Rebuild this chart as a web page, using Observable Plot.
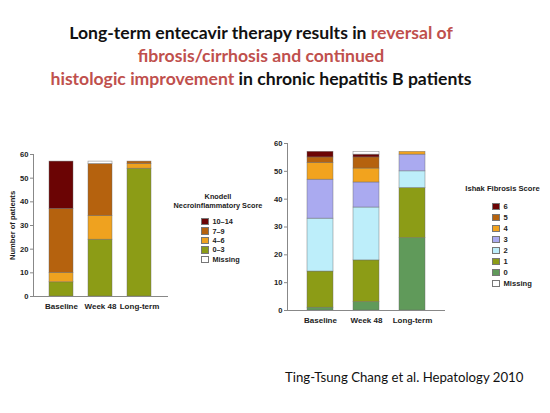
<!DOCTYPE html>
<html>
<head>
<meta charset="utf-8">
<script src="https://cdn.jsdelivr.net/npm/d3@7"></script>
<script src="https://cdn.jsdelivr.net/npm/@observablehq/plot@0.6"></script>
<style>
  body { margin: 0; background: #fff; }
  #page { position: relative; width: 550px; height: 413px; overflow: hidden; background: #fff; }
  #title { position: absolute; left: 0; top: 21px; width: 522px; text-align: center;
    font-family: Lato, "Open Sans", sans-serif; font-weight: 700; font-size: 17.6px; line-height: 23px; color: #111; }
  #title .hl { color: #c0504d; }
  .chart { position: absolute; }
  .legend { position: absolute; font-family: "Liberation Sans", Arial, sans-serif; font-weight: bold; color: #222; }
  .legend .lt { text-align: center; line-height: 9px; white-space: nowrap; }
  .legend .item { display: flex; align-items: center; }
  .legend .sw { width: 7.5px; height: 7.5px; border: 0.6px solid #777; margin-right: 4px; box-sizing: border-box; }
  #caption { position: absolute; left: 285px; top: 369px; font-family: Lato, "Open Sans", sans-serif; font-size: 13.2px; color: #111; white-space: nowrap; }
</style>
</head>
<body>
<div id="page">
  <div id="title">Long-term entecavir therapy results in <span class="hl">reversal of</span><br><span class="hl">fibrosis/cirrhosis and continued</span><br><span class="hl">histologic improvement</span> in chronic hepatitis B patients</div>
  <div id="left" class="chart" style="left:0px; top:140px;"></div>
  <div id="right" class="chart" style="left:255px; top:130px;"></div>
  <div id="legL" class="legend" style="left:168px; top:192px; width:100px; font-size:7.3px;"></div>
  <div id="legR" class="legend" style="left:455px; top:184px; width:95px; font-size:7.6px;"></div>
  <div id="caption">Ting-Tsung Chang et al. Hepatology 2010</div>
</div>
<script>
// ---- data ----
const timepoints = ["Baseline", "Week 48", "Long-term"];

// Knodell necroinflammatory score (bottom to top)
const knodellScores = ["0\u20133", "4\u20136", "7\u20139", "10\u201314", "Missing"];
const knodellColors = ["#8c9c16", "#efa21f", "#b5620e", "#6b0404", "#ffffff"];
const knodell_0_3   = [6, 24, 54];
const knodell_4_6   = [4, 10, 2];
const knodell_7_9   = [27, 22, 1];
const knodell_10_14 = [20, 0, 0];
const knodell_missing = [0, 1, 0];

// Ishak fibrosis score (bottom to top)
const ishakScores = ["0", "1", "2", "3", "4", "5", "6", "Missing"];
const ishakColors = ["#609a5a", "#8c9c16", "#bdeefa", "#aaaaf0", "#f2a31e", "#b5620e", "#6b0404", "#ffffff"];
const ishak0 = [1, 3, 26];
const ishak1 = [13, 15, 18];
const ishak2 = [19, 19, 6];
const ishak3 = [14, 9, 6];
const ishak4 = [6, 5, 1];
const ishak5 = [2, 4, 0];
const ishak6 = [2, 1, 0];
const ishakMissing = [0, 1, 0];

const yTicks = [0, 10, 20, 30, 40, 50, 60];

function toRows(scores, series) {
  const rows = [];
  scores.forEach((s, i) => {
    timepoints.forEach((t, j) => rows.push({time: t, score: s, n: series[i][j]}));
  });
  return rows;
}

const knodellRows = toRows(knodellScores, [knodell_0_3, knodell_4_6, knodell_7_9, knodell_10_14, knodell_missing]);
const ishakRows = toRows(ishakScores, [ishak0, ishak1, ishak2, ishak3, ishak4, ishak5, ishak6, ishakMissing]);

function makeChart(rows, scores, colors, opts) {
  return Plot.plot({
    width: opts.width, height: opts.height,
    marginLeft: opts.ml, marginRight: opts.mr, marginTop: opts.mt, marginBottom: opts.mb,
    style: {fontFamily: "'Liberation Sans', Arial, sans-serif", fontWeight: "bold", fontSize: "7.6px", color: "#222", background: "transparent"},
    x: {domain: timepoints, padding: opts.pad, label: null},
    y: {domain: [0, 60], ticks: yTicks, label: null},
    color: {domain: scores, range: colors},
    marks: [
      Plot.barY(rows, {x: "time", y: "n", fill: "score", order: null, stroke: "#666", strokeWidth: 0.6, strokeOpacity: 0.7, inset: 0}),
      Plot.axisY({ticks: yTicks, tickSize: 3, tickPadding: 2, stroke: "#888", label: opts.ylabel, labelAnchor: "center", labelArrow: "none", labelOffset: 24}),
      Plot.axisX({tickSize: 0, tickPadding: 7, fontSize: 8, label: null}),
      Plot.frame({anchor: "left", stroke: "#888"}),
      Plot.ruleY([0], {stroke: "#888"})
    ]
  });
}

document.getElementById("left").append(makeChart(knodellRows, knodellScores, knodellColors,
  {width: 180, height: 184, ml: 33, mr: 12, mt: 14, mb: 28, pad: 0.38, ylabel: "Number of patients"}));
document.getElementById("right").append(makeChart(ishakRows, ishakScores, ishakColors,
  {width: 200, height: 204, ml: 32, mr: 10, mt: 13, mb: 24, pad: 0.43, ylabel: null}));

function legend(el, title, scores, colors, indent, gap, rowH) {
  const root = document.getElementById(el);
  const t = document.createElement("div");
  t.className = "lt"; t.innerHTML = title; t.style.marginBottom = gap + "px"; root.append(t);
  const order = scores.map((s, i) => i).slice(0, -1).reverse().concat([scores.length - 1]);
  order.forEach(i => {
    const it = document.createElement("div");
    it.className = "item"; it.style.paddingLeft = indent + "px"; it.style.height = rowH + "px";
    const sw = document.createElement("span");
    sw.className = "sw"; sw.style.background = colors[i];
    const lb = document.createElement("span"); lb.textContent = scores[i];
    it.append(sw, lb); root.append(it);
  });
}
legend("legL", "Knodell<br>Necroinflammatory Score", knodellScores, knodellColors, 33, 7, 9.4);
legend("legR", "Ishak Fibrosis Score", ishakScores, ishakColors, 37, 8, 11);
</script>
</body>
</html>
